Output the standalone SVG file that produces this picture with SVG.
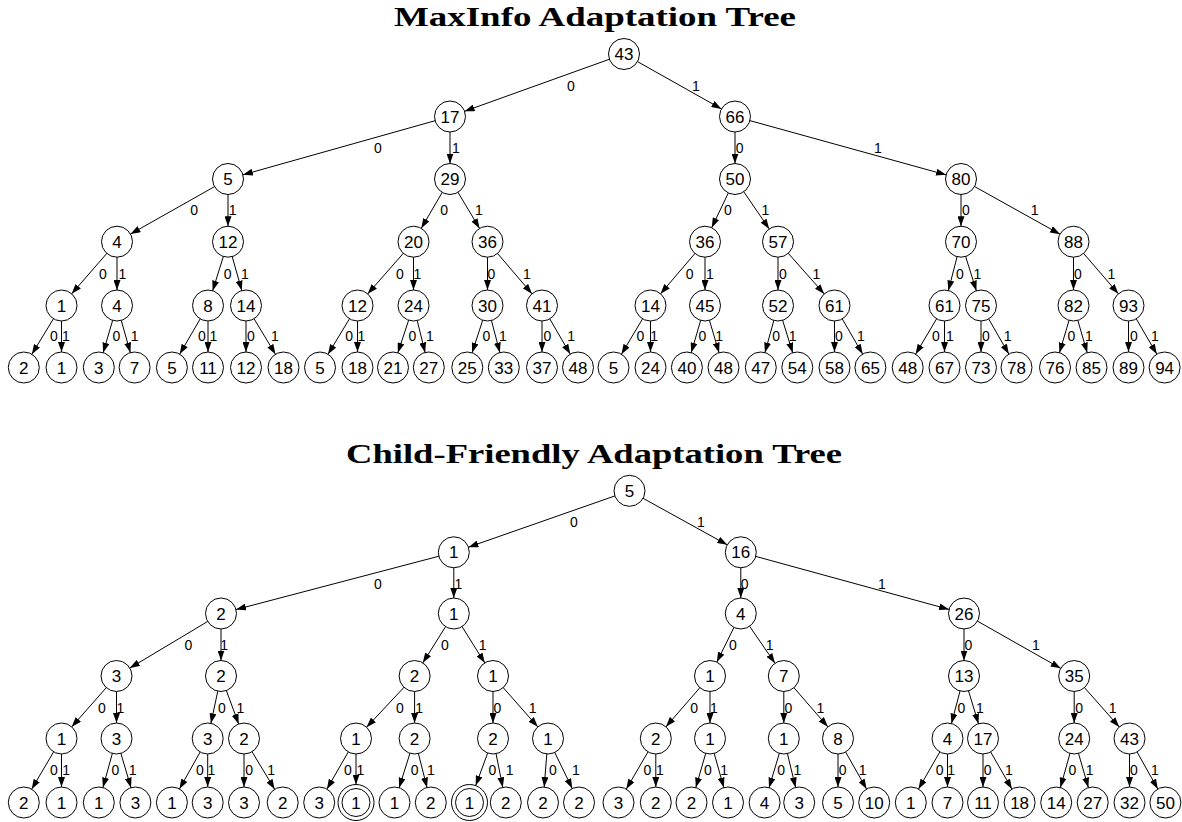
<svg xmlns="http://www.w3.org/2000/svg" width="1182" height="822" viewBox="0 0 1182 822">
<style>
.bg{fill:#fff}
.title{font-family:"Liberation Serif","Times New Roman",serif;font-weight:bold;font-size:28px;fill:#000}
.n circle{fill:#fff;stroke:#000;stroke-width:1}
.n text{font-family:"Liberation Sans",Arial,sans-serif;font-size:17px;text-anchor:middle;fill:#000}
.e line{stroke:#000;stroke-width:1;marker-end:url(#ar)}
.e line.d{marker-end:url(#ar2)}
.e text{font-family:"Liberation Sans",Arial,sans-serif;font-size:14px;text-anchor:middle;fill:#000}
</style>
<defs>
<marker id="ar" markerUnits="userSpaceOnUse" markerWidth="10" markerHeight="7" refX="25.5" refY="3.5" orient="auto"><path d="M0,0 L10,3.5 L0,7 z" fill="#000"/></marker>
<marker id="ar2" markerUnits="userSpaceOnUse" markerWidth="10" markerHeight="7" refX="28" refY="3.5" orient="auto"><path d="M0,0 L10,3.5 L0,7 z" fill="#000"/></marker>
</defs>
<rect class="bg" x="0" y="0" width="1182" height="822"/>
<text class="title" x="595" y="26" text-anchor="middle" textLength="402" lengthAdjust="spacingAndGlyphs">MaxInfo Adaptation Tree</text>
<text class="title" x="594" y="463" text-anchor="middle" textLength="496" lengthAdjust="spacingAndGlyphs">Child-Friendly Adaptation Tree</text>

<g id="connectors-top" class="e">
<line x1="624" y1="54" x2="450" y2="116.5"/>
<line x1="624" y1="54" x2="735" y2="116.5"/>
<line x1="450" y1="116.5" x2="228" y2="179"/>
<line x1="450" y1="116.5" x2="450" y2="179"/>
<line x1="735" y1="116.5" x2="735" y2="179"/>
<line x1="735" y1="116.5" x2="961" y2="179"/>
<line x1="228" y1="179" x2="117" y2="241.7"/>
<line x1="228" y1="179" x2="228" y2="241.7"/>
<line x1="450" y1="179" x2="413.5" y2="241.7"/>
<line x1="450" y1="179" x2="487.5" y2="241.7"/>
<line x1="735" y1="179" x2="705" y2="241.7"/>
<line x1="735" y1="179" x2="778" y2="241.7"/>
<line x1="961" y1="179" x2="961" y2="241.7"/>
<line x1="961" y1="179" x2="1073.5" y2="241.7"/>
<line x1="117" y1="241.7" x2="61.5" y2="305.5"/>
<line x1="117" y1="241.7" x2="117" y2="305.5"/>
<line x1="228" y1="241.7" x2="208" y2="305.5"/>
<line x1="228" y1="241.7" x2="246" y2="305.5"/>
<line x1="413.5" y1="241.7" x2="357.5" y2="305.5"/>
<line x1="413.5" y1="241.7" x2="413.5" y2="305.5"/>
<line x1="487.5" y1="241.7" x2="487.5" y2="305.5"/>
<line x1="487.5" y1="241.7" x2="542" y2="305.5"/>
<line x1="705" y1="241.7" x2="650.5" y2="305.5"/>
<line x1="705" y1="241.7" x2="705" y2="305.5"/>
<line x1="778" y1="241.7" x2="778" y2="305.5"/>
<line x1="778" y1="241.7" x2="834.5" y2="305.5"/>
<line x1="961" y1="241.7" x2="944.5" y2="305.5"/>
<line x1="961" y1="241.7" x2="981" y2="305.5"/>
<line x1="1073.5" y1="241.7" x2="1073.5" y2="305.5"/>
<line x1="1073.5" y1="241.7" x2="1128.5" y2="305.5"/>
<line x1="61.5" y1="305.5" x2="23.8" y2="367.5"/>
<line x1="61.5" y1="305.5" x2="61.5" y2="367.5"/>
<line x1="117" y1="305.5" x2="98.8" y2="367.5"/>
<line x1="117" y1="305.5" x2="134.6" y2="367.5"/>
<line x1="208" y1="305.5" x2="171.9" y2="367.5"/>
<line x1="208" y1="305.5" x2="208" y2="367.5"/>
<line x1="246" y1="305.5" x2="246" y2="367.5"/>
<line x1="246" y1="305.5" x2="283.5" y2="367.5"/>
<line x1="357.5" y1="305.5" x2="320" y2="367.5"/>
<line x1="357.5" y1="305.5" x2="357.5" y2="367.5"/>
<line x1="413.5" y1="305.5" x2="393" y2="367.5"/>
<line x1="413.5" y1="305.5" x2="428.8" y2="367.5"/>
<line x1="487.5" y1="305.5" x2="467.3" y2="367.5"/>
<line x1="487.5" y1="305.5" x2="503.8" y2="367.5"/>
<line x1="542" y1="305.5" x2="542" y2="367.5"/>
<line x1="542" y1="305.5" x2="578" y2="367.5"/>
<line x1="650.5" y1="305.5" x2="613.5" y2="367.5"/>
<line x1="650.5" y1="305.5" x2="650.5" y2="367.5"/>
<line x1="705" y1="305.5" x2="686.9" y2="367.5"/>
<line x1="705" y1="305.5" x2="723.5" y2="367.5"/>
<line x1="778" y1="305.5" x2="760.8" y2="367.5"/>
<line x1="778" y1="305.5" x2="797.3" y2="367.5"/>
<line x1="834.5" y1="305.5" x2="834.5" y2="367.5"/>
<line x1="834.5" y1="305.5" x2="870.4" y2="367.5"/>
<line x1="944.5" y1="305.5" x2="907.7" y2="367.5"/>
<line x1="944.5" y1="305.5" x2="944.5" y2="367.5"/>
<line x1="981" y1="305.5" x2="981" y2="367.5"/>
<line x1="981" y1="305.5" x2="1016.5" y2="367.5"/>
<line x1="1073.5" y1="305.5" x2="1055" y2="367.5"/>
<line x1="1073.5" y1="305.5" x2="1091.5" y2="367.5"/>
<line x1="1128.5" y1="305.5" x2="1128.5" y2="367.5"/>
<line x1="1128.5" y1="305.5" x2="1164.6" y2="367.5"/>
<text x="571" y="90.5">0</text><text x="696" y="90.5">1</text>
<text x="378" y="152.5">0</text><text x="455.8" y="152.5">1</text><text x="739.6" y="152.5">0</text><text x="878" y="152.5">1</text>
<text x="194.2" y="215">0</text><text x="232.7" y="215">1</text><text x="444.2" y="215">0</text><text x="478.8" y="215">1</text><text x="728" y="215">0</text><text x="765.4" y="215">1</text><text x="965.8" y="215">0</text><text x="1034.6" y="215">1</text>
<text x="103" y="279">0</text><text x="122.3" y="279">1</text><text x="227.7" y="279">0</text><text x="245" y="279">1</text><text x="400" y="279">0</text><text x="417.3" y="279">1</text><text x="491.5" y="279">0</text><text x="527" y="279">1</text><text x="689.6" y="279">0</text><text x="710" y="279">1</text><text x="783" y="279">0</text><text x="816.5" y="279">1</text><text x="960" y="279">0</text><text x="977.3" y="279">1</text><text x="1078" y="279">0</text><text x="1111.5" y="279">1</text>
<text x="53.8" y="341">0</text><text x="66" y="341">1</text><text x="116.5" y="341">0</text><text x="134.6" y="341">1</text><text x="202" y="341">0</text><text x="213.5" y="341">1</text><text x="250.8" y="341">0</text><text x="275" y="341">1</text><text x="349.2" y="341">0</text><text x="361.5" y="341">1</text><text x="412.3" y="341">0</text><text x="430" y="341">1</text><text x="486.5" y="341">0</text><text x="503" y="341">1</text><text x="547.3" y="341">0</text><text x="571.2" y="341">1</text><text x="640.4" y="341">0</text><text x="654.2" y="341">1</text><text x="702.3" y="341">0</text><text x="719.2" y="341">1</text><text x="776.2" y="341">0</text><text x="792.7" y="341">1</text><text x="838.8" y="341">0</text><text x="860.8" y="341">1</text><text x="935.8" y="341">0</text><text x="950" y="341">1</text><text x="985.8" y="341">0</text><text x="1007.7" y="341">1</text><text x="1071.5" y="341">0</text><text x="1088.8" y="341">1</text><text x="1133.8" y="341">0</text><text x="1155" y="341">1</text>
</g>

<g id="connectors-bottom" class="e">
<line x1="629.5" y1="490.8" x2="453.8" y2="552.3"/>
<line x1="629.5" y1="490.8" x2="740.8" y2="552.3"/>
<line x1="453.8" y1="552.3" x2="221" y2="613.5"/>
<line x1="453.8" y1="552.3" x2="453.8" y2="613.5"/>
<line x1="740.8" y1="552.3" x2="740.8" y2="613.5"/>
<line x1="740.8" y1="552.3" x2="964" y2="613.5"/>
<line x1="221" y1="613.5" x2="116.5" y2="676"/>
<line x1="221" y1="613.5" x2="221" y2="676"/>
<line x1="453.8" y1="613.5" x2="414.6" y2="676"/>
<line x1="453.8" y1="613.5" x2="493" y2="676"/>
<line x1="740.8" y1="613.5" x2="710" y2="676"/>
<line x1="740.8" y1="613.5" x2="783.8" y2="676"/>
<line x1="964" y1="613.5" x2="964" y2="676"/>
<line x1="964" y1="613.5" x2="1074.2" y2="676"/>
<line x1="116.5" y1="676" x2="61.5" y2="738.5"/>
<line x1="116.5" y1="676" x2="116.5" y2="738.5"/>
<line x1="221" y1="676" x2="207.7" y2="738.5"/>
<line x1="221" y1="676" x2="244" y2="738.5"/>
<line x1="414.6" y1="676" x2="356" y2="738.5"/>
<line x1="414.6" y1="676" x2="414.6" y2="738.5"/>
<line x1="493" y1="676" x2="493" y2="738.5"/>
<line x1="493" y1="676" x2="548" y2="738.5"/>
<line x1="710" y1="676" x2="655.8" y2="738.5"/>
<line x1="710" y1="676" x2="710" y2="738.5"/>
<line x1="783.8" y1="676" x2="783.8" y2="738.5"/>
<line x1="783.8" y1="676" x2="838" y2="738.5"/>
<line x1="964" y1="676" x2="947.5" y2="738.5"/>
<line x1="964" y1="676" x2="983" y2="738.5"/>
<line x1="1074.2" y1="676" x2="1074.2" y2="738.5"/>
<line x1="1074.2" y1="676" x2="1129.5" y2="738.5"/>
<line x1="61.5" y1="738.5" x2="23.8" y2="802.5"/>
<line x1="61.5" y1="738.5" x2="61.5" y2="802.5"/>
<line x1="116.5" y1="738.5" x2="98.8" y2="802.5"/>
<line x1="116.5" y1="738.5" x2="135.4" y2="802.5"/>
<line x1="207.7" y1="738.5" x2="171.9" y2="802.5"/>
<line x1="207.7" y1="738.5" x2="207.7" y2="802.5"/>
<line x1="244" y1="738.5" x2="244" y2="802.5"/>
<line x1="244" y1="738.5" x2="282.7" y2="802.5"/>
<line x1="356" y1="738.5" x2="319.2" y2="802.5"/>
<line class="d" x1="356" y1="738.5" x2="356" y2="802.5"/>
<line x1="414.6" y1="738.5" x2="394.5" y2="802.5"/>
<line x1="414.6" y1="738.5" x2="430.8" y2="802.5"/>
<line class="d" x1="493" y1="738.5" x2="469.5" y2="802.5"/>
<line x1="493" y1="738.5" x2="505.8" y2="802.5"/>
<line x1="548" y1="738.5" x2="543" y2="802.5"/>
<line x1="548" y1="738.5" x2="579" y2="802.5"/>
<line x1="655.8" y1="738.5" x2="618.5" y2="802.5"/>
<line x1="655.8" y1="738.5" x2="655.8" y2="802.5"/>
<line x1="710" y1="738.5" x2="691.5" y2="802.5"/>
<line x1="710" y1="738.5" x2="728" y2="802.5"/>
<line x1="783.8" y1="738.5" x2="764.6" y2="802.5"/>
<line x1="783.8" y1="738.5" x2="799.2" y2="802.5"/>
<line x1="838" y1="738.5" x2="838" y2="802.5"/>
<line x1="838" y1="738.5" x2="874.2" y2="802.5"/>
<line x1="947.5" y1="738.5" x2="910.8" y2="802.5"/>
<line x1="947.5" y1="738.5" x2="947.5" y2="802.5"/>
<line x1="983" y1="738.5" x2="983" y2="802.5"/>
<line x1="983" y1="738.5" x2="1019.6" y2="802.5"/>
<line x1="1074.2" y1="738.5" x2="1056.2" y2="802.5"/>
<line x1="1074.2" y1="738.5" x2="1092.7" y2="802.5"/>
<line x1="1129.5" y1="738.5" x2="1129.5" y2="802.5"/>
<line x1="1129.5" y1="738.5" x2="1165.4" y2="802.5"/>
<text x="573.8" y="526.5">0</text><text x="701" y="526.5">1</text>
<text x="378" y="589">0</text><text x="458.5" y="589">1</text><text x="744.6" y="589">0</text><text x="882" y="589">1</text>
<text x="188.5" y="650">0</text><text x="224.2" y="650">1</text><text x="445" y="650">0</text><text x="482.7" y="650">1</text><text x="733" y="650">0</text><text x="769.6" y="650">1</text><text x="968.5" y="650">0</text><text x="1035.8" y="650">1</text>
<text x="101.9" y="713">0</text><text x="120.4" y="713">1</text><text x="222" y="713">0</text><text x="240.4" y="713">1</text><text x="400" y="713">0</text><text x="419.2" y="713">1</text><text x="497.3" y="713">0</text><text x="532.7" y="713">1</text><text x="694.2" y="713">0</text><text x="713.8" y="713">1</text><text x="788.5" y="713">0</text><text x="820.4" y="713">1</text><text x="961.5" y="713">0</text><text x="980" y="713">1</text><text x="1079.2" y="713">0</text><text x="1112.7" y="713">1</text>
<text x="53.8" y="775">0</text><text x="66.2" y="775">1</text><text x="115.4" y="775">0</text><text x="132.7" y="775">1</text><text x="200" y="775">0</text><text x="211.5" y="775">1</text><text x="249.2" y="775">0</text><text x="271.2" y="775">1</text><text x="348" y="775">0</text><text x="360.4" y="775">1</text><text x="414.6" y="775">0</text><text x="430.8" y="775">1</text><text x="492.3" y="775">0</text><text x="509.6" y="775">1</text><text x="553" y="775">0</text><text x="575.8" y="775">1</text><text x="647.3" y="775">0</text><text x="660" y="775">1</text><text x="708" y="775">0</text><text x="724.2" y="775">1</text><text x="781.2" y="775">0</text><text x="797.3" y="775">1</text><text x="842.7" y="775">0</text><text x="862.7" y="775">1</text><text x="939.6" y="775">0</text><text x="951.2" y="775">1</text><text x="987.7" y="775">0</text><text x="1008.8" y="775">1</text><text x="1072.3" y="775">0</text><text x="1089.6" y="775">1</text><text x="1133.8" y="775">0</text><text x="1155" y="775">1</text>
</g>

<g id="nodes-top">
<g id="t_r" class="n"><circle cx="624" cy="54" r="15.5"/><text x="624" y="60">43</text></g>
<g id="t_0" class="n"><circle cx="450" cy="116.5" r="15.5"/><text x="450" y="122.5">17</text></g>
<g id="t_1" class="n"><circle cx="735" cy="116.5" r="15.5"/><text x="735" y="122.5">66</text></g>
<g id="t_00" class="n"><circle cx="228" cy="179" r="15.5"/><text x="228" y="185">5</text></g>
<g id="t_01" class="n"><circle cx="450" cy="179" r="15.5"/><text x="450" y="185">29</text></g>
<g id="t_10" class="n"><circle cx="735" cy="179" r="15.5"/><text x="735" y="185">50</text></g>
<g id="t_11" class="n"><circle cx="961" cy="179" r="15.5"/><text x="961" y="185">80</text></g>
<g id="t_000" class="n"><circle cx="117" cy="241.7" r="15.5"/><text x="117" y="247.7">4</text></g>
<g id="t_001" class="n"><circle cx="228" cy="241.7" r="15.5"/><text x="228" y="247.7">12</text></g>
<g id="t_010" class="n"><circle cx="413.5" cy="241.7" r="15.5"/><text x="413.5" y="247.7">20</text></g>
<g id="t_011" class="n"><circle cx="487.5" cy="241.7" r="15.5"/><text x="487.5" y="247.7">36</text></g>
<g id="t_100" class="n"><circle cx="705" cy="241.7" r="15.5"/><text x="705" y="247.7">36</text></g>
<g id="t_101" class="n"><circle cx="778" cy="241.7" r="15.5"/><text x="778" y="247.7">57</text></g>
<g id="t_110" class="n"><circle cx="961" cy="241.7" r="15.5"/><text x="961" y="247.7">70</text></g>
<g id="t_111" class="n"><circle cx="1073.5" cy="241.7" r="15.5"/><text x="1073.5" y="247.7">88</text></g>
<g id="t_0000" class="n"><circle cx="61.5" cy="305.5" r="15.5"/><text x="61.5" y="311.5">1</text></g>
<g id="t_0001" class="n"><circle cx="117" cy="305.5" r="15.5"/><text x="117" y="311.5">4</text></g>
<g id="t_0010" class="n"><circle cx="208" cy="305.5" r="15.5"/><text x="208" y="311.5">8</text></g>
<g id="t_0011" class="n"><circle cx="246" cy="305.5" r="15.5"/><text x="246" y="311.5">14</text></g>
<g id="t_0100" class="n"><circle cx="357.5" cy="305.5" r="15.5"/><text x="357.5" y="311.5">12</text></g>
<g id="t_0101" class="n"><circle cx="413.5" cy="305.5" r="15.5"/><text x="413.5" y="311.5">24</text></g>
<g id="t_0110" class="n"><circle cx="487.5" cy="305.5" r="15.5"/><text x="487.5" y="311.5">30</text></g>
<g id="t_0111" class="n"><circle cx="542" cy="305.5" r="15.5"/><text x="542" y="311.5">41</text></g>
<g id="t_1000" class="n"><circle cx="650.5" cy="305.5" r="15.5"/><text x="650.5" y="311.5">14</text></g>
<g id="t_1001" class="n"><circle cx="705" cy="305.5" r="15.5"/><text x="705" y="311.5">45</text></g>
<g id="t_1010" class="n"><circle cx="778" cy="305.5" r="15.5"/><text x="778" y="311.5">52</text></g>
<g id="t_1011" class="n"><circle cx="834.5" cy="305.5" r="15.5"/><text x="834.5" y="311.5">61</text></g>
<g id="t_1100" class="n"><circle cx="944.5" cy="305.5" r="15.5"/><text x="944.5" y="311.5">61</text></g>
<g id="t_1101" class="n"><circle cx="981" cy="305.5" r="15.5"/><text x="981" y="311.5">75</text></g>
<g id="t_1110" class="n"><circle cx="1073.5" cy="305.5" r="15.5"/><text x="1073.5" y="311.5">82</text></g>
<g id="t_1111" class="n"><circle cx="1128.5" cy="305.5" r="15.5"/><text x="1128.5" y="311.5">93</text></g>
<g id="t_00000" class="n"><circle cx="23.8" cy="367.5" r="15.5"/><text x="23.8" y="373.5">2</text></g>
<g id="t_00001" class="n"><circle cx="61.5" cy="367.5" r="15.5"/><text x="61.5" y="373.5">1</text></g>
<g id="t_00010" class="n"><circle cx="98.8" cy="367.5" r="15.5"/><text x="98.8" y="373.5">3</text></g>
<g id="t_00011" class="n"><circle cx="134.6" cy="367.5" r="15.5"/><text x="134.6" y="373.5">7</text></g>
<g id="t_00100" class="n"><circle cx="171.9" cy="367.5" r="15.5"/><text x="171.9" y="373.5">5</text></g>
<g id="t_00101" class="n"><circle cx="208" cy="367.5" r="15.5"/><text x="208" y="373.5">11</text></g>
<g id="t_00110" class="n"><circle cx="246" cy="367.5" r="15.5"/><text x="246" y="373.5">12</text></g>
<g id="t_00111" class="n"><circle cx="283.5" cy="367.5" r="15.5"/><text x="283.5" y="373.5">18</text></g>
<g id="t_01000" class="n"><circle cx="320" cy="367.5" r="15.5"/><text x="320" y="373.5">5</text></g>
<g id="t_01001" class="n"><circle cx="357.5" cy="367.5" r="15.5"/><text x="357.5" y="373.5">18</text></g>
<g id="t_01010" class="n"><circle cx="393" cy="367.5" r="15.5"/><text x="393" y="373.5">21</text></g>
<g id="t_01011" class="n"><circle cx="428.8" cy="367.5" r="15.5"/><text x="428.8" y="373.5">27</text></g>
<g id="t_01100" class="n"><circle cx="467.3" cy="367.5" r="15.5"/><text x="467.3" y="373.5">25</text></g>
<g id="t_01101" class="n"><circle cx="503.8" cy="367.5" r="15.5"/><text x="503.8" y="373.5">33</text></g>
<g id="t_01110" class="n"><circle cx="542" cy="367.5" r="15.5"/><text x="542" y="373.5">37</text></g>
<g id="t_01111" class="n"><circle cx="578" cy="367.5" r="15.5"/><text x="578" y="373.5">48</text></g>
<g id="t_10000" class="n"><circle cx="613.5" cy="367.5" r="15.5"/><text x="613.5" y="373.5">5</text></g>
<g id="t_10001" class="n"><circle cx="650.5" cy="367.5" r="15.5"/><text x="650.5" y="373.5">24</text></g>
<g id="t_10010" class="n"><circle cx="686.9" cy="367.5" r="15.5"/><text x="686.9" y="373.5">40</text></g>
<g id="t_10011" class="n"><circle cx="723.5" cy="367.5" r="15.5"/><text x="723.5" y="373.5">48</text></g>
<g id="t_10100" class="n"><circle cx="760.8" cy="367.5" r="15.5"/><text x="760.8" y="373.5">47</text></g>
<g id="t_10101" class="n"><circle cx="797.3" cy="367.5" r="15.5"/><text x="797.3" y="373.5">54</text></g>
<g id="t_10110" class="n"><circle cx="834.5" cy="367.5" r="15.5"/><text x="834.5" y="373.5">58</text></g>
<g id="t_10111" class="n"><circle cx="870.4" cy="367.5" r="15.5"/><text x="870.4" y="373.5">65</text></g>
<g id="t_11000" class="n"><circle cx="907.7" cy="367.5" r="15.5"/><text x="907.7" y="373.5">48</text></g>
<g id="t_11001" class="n"><circle cx="944.5" cy="367.5" r="15.5"/><text x="944.5" y="373.5">67</text></g>
<g id="t_11010" class="n"><circle cx="981" cy="367.5" r="15.5"/><text x="981" y="373.5">73</text></g>
<g id="t_11011" class="n"><circle cx="1016.5" cy="367.5" r="15.5"/><text x="1016.5" y="373.5">78</text></g>
<g id="t_11100" class="n"><circle cx="1055" cy="367.5" r="15.5"/><text x="1055" y="373.5">76</text></g>
<g id="t_11101" class="n"><circle cx="1091.5" cy="367.5" r="15.5"/><text x="1091.5" y="373.5">85</text></g>
<g id="t_11110" class="n"><circle cx="1128.5" cy="367.5" r="15.5"/><text x="1128.5" y="373.5">89</text></g>
<g id="t_11111" class="n"><circle cx="1164.6" cy="367.5" r="15.5"/><text x="1164.6" y="373.5">94</text></g>
</g>

<g id="nodes-bottom">
<g id="b_r" class="n"><circle cx="629.5" cy="490.8" r="15.5"/><text x="629.5" y="496.8">5</text></g>
<g id="b_0" class="n"><circle cx="453.8" cy="552.3" r="15.5"/><text x="453.8" y="558.3">1</text></g>
<g id="b_1" class="n"><circle cx="740.8" cy="552.3" r="15.5"/><text x="740.8" y="558.3">16</text></g>
<g id="b_00" class="n"><circle cx="221" cy="613.5" r="15.5"/><text x="221" y="619.5">2</text></g>
<g id="b_01" class="n"><circle cx="453.8" cy="613.5" r="15.5"/><text x="453.8" y="619.5">1</text></g>
<g id="b_10" class="n"><circle cx="740.8" cy="613.5" r="15.5"/><text x="740.8" y="619.5">4</text></g>
<g id="b_11" class="n"><circle cx="964" cy="613.5" r="15.5"/><text x="964" y="619.5">26</text></g>
<g id="b_000" class="n"><circle cx="116.5" cy="676" r="15.5"/><text x="116.5" y="682">3</text></g>
<g id="b_001" class="n"><circle cx="221" cy="676" r="15.5"/><text x="221" y="682">2</text></g>
<g id="b_010" class="n"><circle cx="414.6" cy="676" r="15.5"/><text x="414.6" y="682">2</text></g>
<g id="b_011" class="n"><circle cx="493" cy="676" r="15.5"/><text x="493" y="682">1</text></g>
<g id="b_100" class="n"><circle cx="710" cy="676" r="15.5"/><text x="710" y="682">1</text></g>
<g id="b_101" class="n"><circle cx="783.8" cy="676" r="15.5"/><text x="783.8" y="682">7</text></g>
<g id="b_110" class="n"><circle cx="964" cy="676" r="15.5"/><text x="964" y="682">13</text></g>
<g id="b_111" class="n"><circle cx="1074.2" cy="676" r="15.5"/><text x="1074.2" y="682">35</text></g>
<g id="b_0000" class="n"><circle cx="61.5" cy="738.5" r="15.5"/><text x="61.5" y="744.5">1</text></g>
<g id="b_0001" class="n"><circle cx="116.5" cy="738.5" r="15.5"/><text x="116.5" y="744.5">3</text></g>
<g id="b_0010" class="n"><circle cx="207.7" cy="738.5" r="15.5"/><text x="207.7" y="744.5">3</text></g>
<g id="b_0011" class="n"><circle cx="244" cy="738.5" r="15.5"/><text x="244" y="744.5">2</text></g>
<g id="b_0100" class="n"><circle cx="356" cy="738.5" r="15.5"/><text x="356" y="744.5">1</text></g>
<g id="b_0101" class="n"><circle cx="414.6" cy="738.5" r="15.5"/><text x="414.6" y="744.5">2</text></g>
<g id="b_0110" class="n"><circle cx="493" cy="738.5" r="15.5"/><text x="493" y="744.5">2</text></g>
<g id="b_0111" class="n"><circle cx="548" cy="738.5" r="15.5"/><text x="548" y="744.5">1</text></g>
<g id="b_1000" class="n"><circle cx="655.8" cy="738.5" r="15.5"/><text x="655.8" y="744.5">2</text></g>
<g id="b_1001" class="n"><circle cx="710" cy="738.5" r="15.5"/><text x="710" y="744.5">1</text></g>
<g id="b_1010" class="n"><circle cx="783.8" cy="738.5" r="15.5"/><text x="783.8" y="744.5">1</text></g>
<g id="b_1011" class="n"><circle cx="838" cy="738.5" r="15.5"/><text x="838" y="744.5">8</text></g>
<g id="b_1100" class="n"><circle cx="947.5" cy="738.5" r="15.5"/><text x="947.5" y="744.5">4</text></g>
<g id="b_1101" class="n"><circle cx="983" cy="738.5" r="15.5"/><text x="983" y="744.5">17</text></g>
<g id="b_1110" class="n"><circle cx="1074.2" cy="738.5" r="15.5"/><text x="1074.2" y="744.5">24</text></g>
<g id="b_1111" class="n"><circle cx="1129.5" cy="738.5" r="15.5"/><text x="1129.5" y="744.5">43</text></g>
<g id="b_00000" class="n"><circle cx="23.8" cy="802.5" r="15.5"/><text x="23.8" y="808.5">2</text></g>
<g id="b_00001" class="n"><circle cx="61.5" cy="802.5" r="15.5"/><text x="61.5" y="808.5">1</text></g>
<g id="b_00010" class="n"><circle cx="98.8" cy="802.5" r="15.5"/><text x="98.8" y="808.5">1</text></g>
<g id="b_00011" class="n"><circle cx="135.4" cy="802.5" r="15.5"/><text x="135.4" y="808.5">3</text></g>
<g id="b_00100" class="n"><circle cx="171.9" cy="802.5" r="15.5"/><text x="171.9" y="808.5">1</text></g>
<g id="b_00101" class="n"><circle cx="207.7" cy="802.5" r="15.5"/><text x="207.7" y="808.5">3</text></g>
<g id="b_00110" class="n"><circle cx="244" cy="802.5" r="15.5"/><text x="244" y="808.5">3</text></g>
<g id="b_00111" class="n"><circle cx="282.7" cy="802.5" r="15.5"/><text x="282.7" y="808.5">2</text></g>
<g id="b_01000" class="n"><circle cx="319.2" cy="802.5" r="15.5"/><text x="319.2" y="808.5">3</text></g>
<g id="b_01001" class="n"><circle cx="356" cy="802.5" r="18"/><circle cx="356" cy="802.5" r="14"/><text x="356" y="808.5">1</text></g>
<g id="b_01010" class="n"><circle cx="394.5" cy="802.5" r="15.5"/><text x="394.5" y="808.5">1</text></g>
<g id="b_01011" class="n"><circle cx="430.8" cy="802.5" r="15.5"/><text x="430.8" y="808.5">2</text></g>
<g id="b_01100" class="n"><circle cx="469.5" cy="802.5" r="18"/><circle cx="469.5" cy="802.5" r="14"/><text x="469.5" y="808.5">1</text></g>
<g id="b_01101" class="n"><circle cx="505.8" cy="802.5" r="15.5"/><text x="505.8" y="808.5">2</text></g>
<g id="b_01110" class="n"><circle cx="543" cy="802.5" r="15.5"/><text x="543" y="808.5">2</text></g>
<g id="b_01111" class="n"><circle cx="579" cy="802.5" r="15.5"/><text x="579" y="808.5">2</text></g>
<g id="b_10000" class="n"><circle cx="618.5" cy="802.5" r="15.5"/><text x="618.5" y="808.5">3</text></g>
<g id="b_10001" class="n"><circle cx="655.8" cy="802.5" r="15.5"/><text x="655.8" y="808.5">2</text></g>
<g id="b_10010" class="n"><circle cx="691.5" cy="802.5" r="15.5"/><text x="691.5" y="808.5">2</text></g>
<g id="b_10011" class="n"><circle cx="728" cy="802.5" r="15.5"/><text x="728" y="808.5">1</text></g>
<g id="b_10100" class="n"><circle cx="764.6" cy="802.5" r="15.5"/><text x="764.6" y="808.5">4</text></g>
<g id="b_10101" class="n"><circle cx="799.2" cy="802.5" r="15.5"/><text x="799.2" y="808.5">3</text></g>
<g id="b_10110" class="n"><circle cx="838" cy="802.5" r="15.5"/><text x="838" y="808.5">5</text></g>
<g id="b_10111" class="n"><circle cx="874.2" cy="802.5" r="15.5"/><text x="874.2" y="808.5">10</text></g>
<g id="b_11000" class="n"><circle cx="910.8" cy="802.5" r="15.5"/><text x="910.8" y="808.5">1</text></g>
<g id="b_11001" class="n"><circle cx="947.5" cy="802.5" r="15.5"/><text x="947.5" y="808.5">7</text></g>
<g id="b_11010" class="n"><circle cx="983" cy="802.5" r="15.5"/><text x="983" y="808.5">11</text></g>
<g id="b_11011" class="n"><circle cx="1019.6" cy="802.5" r="15.5"/><text x="1019.6" y="808.5">18</text></g>
<g id="b_11100" class="n"><circle cx="1056.2" cy="802.5" r="15.5"/><text x="1056.2" y="808.5">14</text></g>
<g id="b_11101" class="n"><circle cx="1092.7" cy="802.5" r="15.5"/><text x="1092.7" y="808.5">27</text></g>
<g id="b_11110" class="n"><circle cx="1129.5" cy="802.5" r="15.5"/><text x="1129.5" y="808.5">32</text></g>
<g id="b_11111" class="n"><circle cx="1165.4" cy="802.5" r="15.5"/><text x="1165.4" y="808.5">50</text></g>
</g>
</svg>
